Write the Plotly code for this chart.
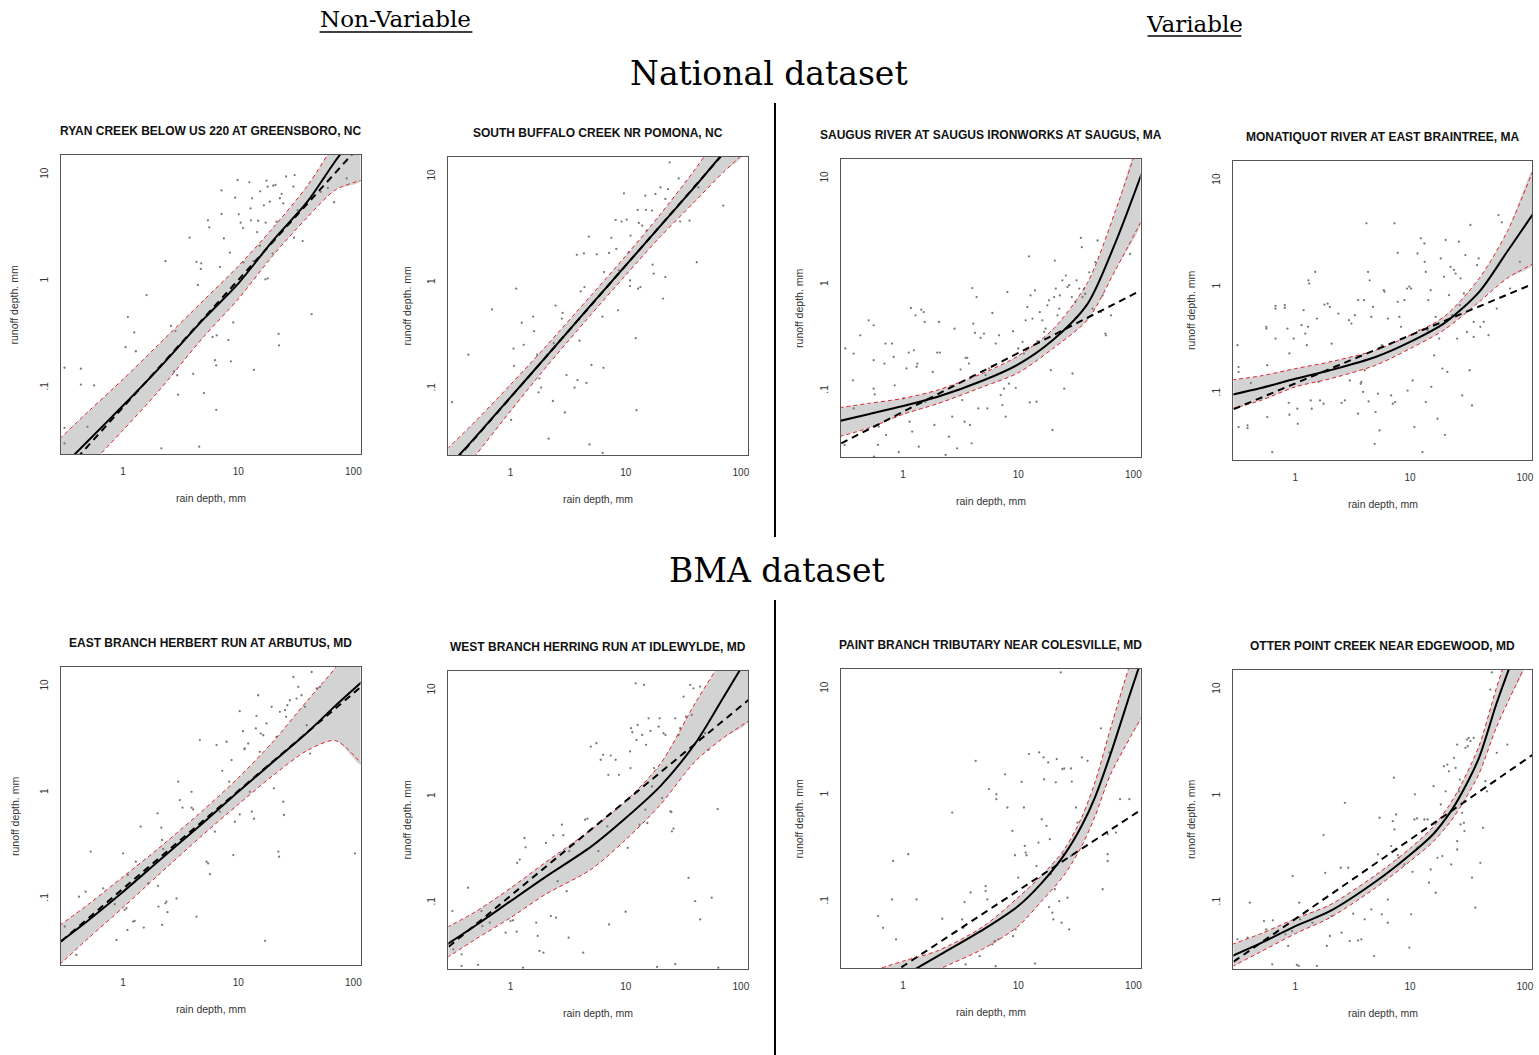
import plotly.graph_objects as go

W, H = 1539, 1055

# ---------------- panel titles ----------------
titles = [
    "RYAN CREEK BELOW US 220 AT GREENSBORO, NC",
    "SOUTH BUFFALO CREEK NR POMONA, NC",
    "SAUGUS RIVER AT SAUGUS IRONWORKS AT SAUGUS, MA",
    "MONATIQUOT RIVER AT EAST BRAINTREE, MA",
    "EAST BRANCH HERBERT RUN AT ARBUTUS, MD",
    "WEST BRANCH HERRING RUN AT IDLEWYLDE, MD",
    "PAINT BRANCH TRIBUTARY NEAR COLESVILLE, MD",
    "OTTER POINT CREEK NEAR EDGEWOOD, MD",
]

x_tickvals = [1, 10, 100]
x_ticktext = ["1", "10", "100"]
y_tickvals = [0.1, 1, 10]
y_ticktext = [".1", "1", "10"]

# ---------------- observed events (rain mm, runoff mm) ----------------
ryan_rain = [0.31,0.43,0.43,0.56,0.31,0.49,0.31,1.10,1.05,1.25,1.29,1.60,2.33,2.15,2.6,2.85,2.78,2.95,3.0,3.78,4.06,4.34,4.46,4.73,4.77,5.03,4.58,5.45,5.6,5.98,6.27,6.44,6.44,6.5,7.16,7.16,6.93,7.5,8.2,8.47,8.63,9.05,9.4,9.87,10.1,10.5,11.0,11.1,12.5,12.8,12.9,13.2,13.7,13.5,14.6,14.9,15.5,15.4,16.0,16.7,17.2,17.6,17.3,18.0,18.0,18.8,19.9,20.1,21.0,22.4,22.6,21.5,23.0,23.8,24.6,26,30.1,30.9,30.5,32.8,36.3,43.4,56.7,68,52,60,87.5]
ryan_runoff = [0.154,0.151,0.107,0.105,0.042,0.043,0.030,0.46,0.24,0.33,0.22,0.74,1.54,0.027,0.38,0.34,0.143,0.131,0.086,2.56,0.135,1.52,0.92,1.30,1.47,0.089,0.028,3.72,3.2,0.30,0.181,0.162,0.062,0.31,7.1,4.27,1.36,2.52,0.28,1.85,0.177,0.41,6.08,8.9,4.24,3.54,3.15,1.5,8.47,4.82,3.72,5.99,0.147,1.54,2.89,3.69,6.97,2.15,1.77,5.15,1.04,8.79,3.54,7.71,1.06,5.57,1.81,7.88,8.0,0.32,0.25,3.61,6.0,6.6,5.37,9.6,7.7,9.9,2.56,4.65,2.38,0.49,9.6,5.5,6.9,7.5,9.2]

buffalo_rain = [0.31,0.43,0.69,1.12,1.06,1.07,1.01,1.25,1.30,1.57,1.60,1.70,1.78,1.84,1.75,2.14,2.33,2.46,2.37,2.79,2.83,2.96,3.06,3.59,3.81,3.76,3.97,4.07,4.38,4.33,4.56,4.78,4.84,5.04,5.6,6.27,6.4,6.3,6.48,7.16,7.5,8.17,8.28,8.56,8.73,9.2,9.65,10.2,10.6,10.9,10.9,11.0,12.2,12.4,12.7,13.0,12.8,13.4,13.9,14.8,15.0,15.2,16.9,17.1,17.5,18.1,20.0,21.1,22.1,22.1,23.3,24.1,28.8,29.7,35.8,41.4,42.8,70.3]
buffalo_runoff = [0.075,0.21,0.56,0.88,0.24,0.165,0.051,0.42,0.26,0.48,0.35,0.21,0.126,0.103,0.093,0.034,0.077,0.61,0.27,0.46,0.52,0.060,0.135,0.103,0.121,1.83,0.285,0.83,0.91,1.89,0.114,2.72,0.030,0.168,1.85,0.48,0.158,0.025,1.26,1.91,2.65,3.9,2.08,0.55,1.31,3.77,6.95,3.93,1.94,1.05,0.93,2.78,0.30,0.063,4.85,3.66,0.88,0.91,3.45,6.6,4.85,3.1,4.78,1.48,1.22,6.85,7.9,0.71,6.15,1.13,7.6,13.6,9.6,3.77,3.85,1.56,7.9,5.33]

saugus_rain = [0.315,0.31,0.372,0.367,0.372,0.425,0.486,0.502,0.555,0.555,0.555,0.567,0.559,0.606,0.614,0.688,0.702,0.711,0.802,0.829,0.846,0.857,0.917,1.01,1.07,1.12,1.14,1.17,1.20,1.24,1.28,1.31,1.33,1.37,1.44,1.51,1.54,1.56,1.81,1.87,1.98,2.05,2.09,2.34,2.50,2.67,2.80,2.95,3.16,3.26,3.42,3.49,3.61,3.73,3.81,3.94,3.99,4.07,4.21,4.35,4.50,4.71,5.04,5.21,5.39,5.57,5.96,6.37,6.81,7.04,7.28,7.53,7.78,8.05,8.32,9.02,9.51,10.0,10.9,11.2,11.6,12.0,12.4,12.6,12.8,13.3,14.0,14.4,14.7,15.4,16.2,16.8,17.3,17.9,18.5,19.2,19.8,20.5,20.8,21.2,21.9,22.7,23.0,24.2,25.1,25.9,26.8,27.7,29.2,29.6,31.3,32.1,33.9,35.0,35.7,36.2,37.4,38.2,40.0,41.4,44.2,46.7,48.9,52.3,54.1,57.8,63.9,93.5,57.0]
saugus_runoff = [0.251,0.031,0.225,0.126,0.0685,0.334,0.0429,0.462,0.415,0.195,0.105,0.0927,0.0241,0.031,0.0461,0.181,0.279,0.0385,0.279,0.209,0.113,0.0572,0.0265,0.0851,0.163,0.23,0.0513,0.604,0.0414,0.241,0.515,0.169,0.181,0.0299,0.582,0.553,0.446,0.0791,0.151,0.0478,0.23,0.446,0.23,0.025,0.0371,0.0572,0.386,0.0288,0.159,0.082,0.0513,0.205,0.205,0.181,0.0478,0.0321,0.93,0.43,0.352,0.766,0.0685,0.316,0.347,0.141,0.0685,0.163,0.542,0.279,0.334,0.0914,0.0736,0.105,0.0572,0.853,0.117,0.365,0.107,0.251,0.29,0.225,0.462,0.617,1.85,0.078,0.794,0.48,0.885,0.0791,0.294,0.553,0.462,0.36,0.386,0.64,0.713,0.157,0.0429,0.766,1.69,0.92,0.515,0.595,0.794,1.10,0.105,1.22,0.95,0.99,0.766,0.146,0.687,1.10,0.92,2.76,2.26,0.766,0.92,0.823,0.48,1.31,0.595,1.63,2.61,0.553,0.794,0.334,0.515,1.95,0.347]

monatiquot_rain = [0.313,0.32,0.32,0.32,0.383,0.383,0.409,0.569,0.569,0.629,0.558,0.558,0.672,0.672,0.672,0.809,0.809,0.853,0.876,0.887,0.887,0.968,1.04,1.05,1.13,1.18,1.22,1.26,1.29,1.30,1.32,1.36,1.39,1.49,1.54,1.59,1.64,1.76,1.79,1.91,2.00,2.07,2.37,2.53,2.70,2.93,2.98,3.08,3.30,3.52,3.52,3.71,3.76,3.89,3.97,4.02,4.16,4.30,4.35,4.44,4.59,4.75,4.91,5.00,5.24,5.42,5.67,5.90,5.98,6.39,6.83,7.06,7.30,7.40,7.80,7.80,8.06,8.33,8.91,9.39,9.51,9.84,10.2,10.5,10.9,11.6,12.0,12.4,12.8,13.3,13.4,13.7,13.7,14.2,14.4,15.1,15.3,16.2,16.7,17.3,17.9,18.5,19.1,19.7,20.1,20.4,21.1,21.8,22.5,23.3,24.1,24.9,25.7,26.6,27.1,27.5,28.4,29.4,30.3,31.3,33.0,33.5,34.6,35.8,38.3,39.5,40.9,43.7,48.2,56.9,58.9,62.9,90.5,35.8,74.3]
monatiquot_runoff = [0.285,0.178,0.16,0.0486,0.0504,0.0475,0.126,0.185,0.0604,0.0283,0.424,0.409,0.667,0.63,0.329,0.677,0.639,0.409,0.0822,0.239,0.0635,0.329,0.0723,0.0522,0.44,0.608,0.367,0.285,0.424,1.16,1.08,0.0865,0.0723,1.39,0.507,0.129,0.0865,0.0805,0.687,0.702,0.653,0.295,0.565,0.0822,0.0865,0.49,0.133,0.455,0.545,0.755,0.0649,0.124,0.129,0.104,0.755,0.166,3.97,1.39,0.0847,1.16,0.526,0.653,0.0339,0.0673,0.1,0.0452,0.285,0.937,0.904,0.507,0.0964,0.0805,3.97,0.0835,2.10,0.728,0.526,0.424,0.755,0.971,0.107,1.01,0.971,0.133,0.0486,2.07,0.394,2.87,0.0283,2.57,1.73,0.0835,1.39,0.394,0.755,0.937,0.116,0.229,0.526,0.0582,0.329,1.86,0.172,1.25,0.0411,2.77,0.16,0.841,1.55,0.545,1.45,1.34,0.329,2.67,0.677,1.21,0.0964,0.872,2.00,0.38,0.166,3.83,0.0776,0.341,1.61,1.86,0.424,0.472,0.354,0.63,4.75,4.06,1.73,0.472,0.971]

herbert_rain = [0.311,0.393,0.414,0.473,0.523,0.670,0.847,0.875,1.0,1.03,1.07,1.09,1.10,1.22,1.26,1.29,1.42,1.51,1.65,1.99,2.01,2.03,2.15,2.18,2.18,2.23,2.33,2.38,2.43,2.91,3.01,3.11,3.28,3.93,3.93,4.06,4.34,4.64,5.31,5.48,5.67,6.27,6.48,6.93,7.26,7.92,8.35,8.75,9.05,9.35,10.3,10.3,11.0,11.3,11.4,12.2,12.6,13.1,13.7,14.2,14.4,14.9,15.4,15.7,16.5,17.1,17.6,19.5,20.4,21.5,22.3,22.6,23.0,24.6,24.9,25.5,26.0,26.7,28.1,30.1,33.2,35.5,39.3,42.0,43.4,48.0,51.3,103,38.0,32.1,17.1]
herbert_runoff = [0.055,0.0297,0.105,0.117,0.279,0.126,0.0891,0.0411,0.269,0.0788,0.0817,0.051,0.168,0.0612,0.0621,0.224,0.479,0.0537,0.14,0.64,0.133,0.0847,0.469,0.359,0.0569,0.295,0.091,0.0944,0.075,0.101,1.27,0.853,0.723,1.02,0.723,0.697,0.0682,3.13,0.224,0.216,0.171,0.43,2.81,0.663,1.61,3.02,1.27,2.03,0.259,0.533,5.86,0.625,3.80,2.57,2.61,2.91,1.02,0.663,0.569,4.03,5.30,8.28,2.43,3.61,3.48,1.69,4.49,6.44,1.10,3.36,0.279,0.25,5.78,0.823,0.617,5.99,5.19,6.67,7.43,12.3,9.93,8.28,4.33,2.34,13.7,9.58,9.93,0.269,6.44,7.71,0.0403]

herring_rain = [0.312,0.318,0.375,0.375,0.428,0.522,0.558,0.569,0.659,0.906,1.0,1.05,1.13,1.14,1.20,1.32,1.35,1.28,1.67,1.72,1.78,1.93,2.03,2.24,2.35,2.48,2.56,2.79,2.87,3.07,3.19,3.23,4.27,4.44,4.65,4.97,5.56,5.79,6.06,6.35,6.92,7.06,7.16,7.40,8.17,8.73,9.97,10.4,10.9,11.0,11.1,11.4,12.2,12.4,12.7,13.2,13.9,14.4,14.8,15.0,15.4,15.8,16.4,16.9,17.6,18.7,19.3,19.7,20.7,21.3,22.1,24.4,24.9,25.2,26.0,26.9,28.8,29.7,31.8,33.3,35.1,36.3,37.5,38.7,40.1,44.3,44.3,47.3,48.9,52.2,55.8,63.7,62.9,26.9]
herring_runoff = [0.0838,0.0366,0.0328,0.0255,0.139,0.0261,0.0838,0.0605,0.0652,0.0525,0.0675,0.0685,0.0536,0.238,0.256,0.409,0.334,0.0246,0.0652,0.0489,0.0353,0.034,0.367,0.0752,0.434,0.0726,0.16,0.546,0.434,0.129,0.0471,0.307,0.034,0.608,0.621,2.97,3.19,0.307,2.23,2.48,0.526,1.61,0.0628,2.44,2.23,1.61,0.0826,0.33,2.67,1.86,4.42,4.05,11.7,3.43,4.74,0.546,3.82,11.3,0.755,3.08,0.566,5.48,4.17,1.25,1.86,0.025,4.57,5.48,0.971,3.96,3.82,0.728,0.718,0.472,0.501,5.48,3.82,4.42,8.75,5.68,0.172,11.3,5.89,10.5,0.104,10.9,0.07,3.69,3.96,2.76,0.112,0.0246,0.766,0.0265]

paint_rain = [0.606,0.67,0.819,0.869,0.802,1.11,1.31,2.19,2.67,3.26,3.42,3.33,3.49,3.86,4.27,4.62,4.71,5.21,5.21,5.39,5.57,5.96,6.24,6.37,6.46,6.46,6.72,7.28,7.68,8.05,8.9,9.02,9.38,9.51,10.0,10.7,11.2,11.4,11.6,11.8,12.4,14.0,14.4,15.0,15.2,16.0,16.6,16.8,17.6,18.2,18.5,18.8,19.2,19.8,20.2,20.8,21.2,21.6,22.7,23.8,24.2,25.1,24.6,26.8,27.7,28.7,29.2,31.7,32.7,35.7,40.0,52.3,54.1,59.8,59.8,76.6,61.8,92.3,23.4,59.8,70.6,28.7]
paint_runoff = [0.0733,0.0569,0.241,0.0443,0.105,0.279,0.105,0.0692,0.687,0.0682,0.0993,0.0569,0.0258,0.122,2.10,0.0308,0.053,0.126,0.14,0.105,1.14,0.0397,0.0427,0.0248,1.02,0.917,0.0443,0.101,1.57,0.766,0.462,0.0475,0.273,0.055,0.168,1.33,0.766,0.334,0.289,0.273,2.43,0.0263,0.216,0.359,2.52,0.594,2.26,1.41,0.515,2.03,0.0891,0.386,0.181,0.0788,0.0682,0.131,1.32,2.18,0.101,0.0635,1.76,1.78,0.279,0.109,0.055,1.78,1.34,0.766,0.553,2.26,2.10,4.24,0.131,0.279,0.241,0.917,2.52,0.917,14.2,0.43,0.446,0.269]

otter_rain = [0.313,0.383,0.401,0.533,0.558,0.629,0.637,0.82,0.865,0.936,0.948,1.03,1.07,1.08,1.10,1.41,1.54,1.76,1.82,1.88,2.00,2.07,2.49,2.53,2.70,2.89,2.98,3.19,3.52,3.76,4.02,4.59,4.84,5.24,5.42,5.67,6.39,6.39,6.83,7.06,7.21,7.30,7.55,7.80,7.91,8.91,9.84,10.2,10.5,10.9,11.0,11.5,11.6,13.3,14.2,14.6,15.1,16.0,16.7,17.3,18.5,19.1,19.7,20.4,21.1,21.8,22.8,24.1,24.9,25.7,26.6,27.1,27.5,28.4,29.4,29.7,30.3,31.3,31.8,32.4,33.5,34.6,35.8,37.0,25.7,40.9,43.1,45.2,46.7,49.9,51.5,56.9,25.7,70.3]
otter_runoff = [0.0453,0.047,0.1,0.0673,0.0562,0.0264,0.0683,0.0505,0.0393,0.0542,0.178,0.0261,0.0255,0.1,0.0698,0.0649,0.0255,0.431,0.191,0.0393,0.0487,0.075,0.213,0.0524,0.866,0.213,0.0437,0.0789,0.0443,0.0453,0.0698,0.0866,0.0316,0.284,0.627,0.0778,0.107,0.0649,0.34,0.583,1.49,0.487,0.673,0.28,0.264,0.229,0.0379,0.0778,0.195,0.604,1.04,0.618,0.328,0.604,0.604,0.154,0.205,1.24,0.124,0.264,0.835,0.274,1.91,1.11,1.98,1.71,0.229,2.29,1.84,0.378,1.11,1.43,0.542,0.698,0.562,0.47,2.84,3.40,2.94,3.52,3.28,0.172,3.52,0.0898,0.316,0.237,0.505,1.38,1.11,10.0,14.5,2.55,3.05,3.05]

# ---------------- fitted curves (rain knots, fit, confidence band) ----------------
curve_rain = [0.28, 0.5, 1, 2, 5, 10, 20, 40, 70, 120]

ryan_fit   = [0.017, 0.032, 0.068, 0.148, 0.44, 0.95, 2.4, 5.6, 13.5, 29]
ryan_upper = [0.033, 0.060, 0.12, 0.25, 0.66, 1.38, 3.16, 7.9, 20, 45]
ryan_lower = [0.0089, 0.018, 0.040, 0.091, 0.30, 0.68, 1.74, 4.0, 7.2, 8.9]
ryan_lin_rain = [0.29, 117]
ryan_lin = [0.015, 19.3]

buffalo_fit   = [0.0179, 0.0356, 0.0838, 0.197, 0.618, 1.456, 3.43, 8.07, 16.5, 30.9]
buffalo_upper = [0.0271, 0.0502, 0.110, 0.248, 0.760, 1.79, 4.42, 11.7, 27.4, 57.5]
buffalo_lower = [0.0113, 0.0240, 0.0621, 0.157, 0.502, 1.18, 2.72, 5.85, 10.9, 18.6]
buffalo_lin_rain = [0.29, 117]
buffalo_lin = [0.0179, 30.9]

saugus_fit   = [0.0521, 0.0603, 0.0721, 0.0881, 0.126, 0.178, 0.302, 0.661, 2.51, 11.7]
saugus_upper = [0.0695, 0.0764, 0.0851, 0.102, 0.148, 0.214, 0.380, 1.05, 5.01, 28.2]
saugus_lower = [0.0372, 0.0447, 0.0603, 0.0759, 0.110, 0.148, 0.251, 0.468, 1.38, 4.17]
saugus_lin_rain = [0.29, 109]
saugus_lin = [0.0321, 0.853]

monatiquot_fit   = [0.0977, 0.113, 0.138, 0.166, 0.221, 0.306, 0.462, 0.904, 2.15, 5.01]
monatiquot_upper = [0.135, 0.147, 0.172, 0.199, 0.256, 0.354, 0.533, 1.21, 3.31, 13.1]
monatiquot_lower = [0.0724, 0.0865, 0.116, 0.138, 0.185, 0.265, 0.400, 0.728, 1.21, 1.67]
monatiquot_lin_rain = [0.29, 117]
monatiquot_lin = [0.0716, 1.07]

herbert_fit   = [0.0389, 0.0631, 0.117, 0.224, 0.525, 1.02, 1.95, 3.72, 6.61, 11.2]
herbert_upper = [0.0562, 0.0891, 0.162, 0.295, 0.692, 1.38, 3.02, 7.41, 15.1, 35.5]
herbert_lower = [0.024, 0.0427, 0.0832, 0.166, 0.407, 0.776, 1.45, 2.51, 3.09, 1.82]
herbert_lin_rain = [0.29, 117]
herbert_lin = [0.040, 10.0]

herring_fit   = [0.0407, 0.0617, 0.104, 0.175, 0.339, 0.631, 1.26, 3.16, 8.51, 22.4]
herring_upper = [0.0589, 0.0832, 0.138, 0.24, 0.49, 0.912, 2.04, 7.59, 20, 50]
herring_lower = [0.0305, 0.0457, 0.0726, 0.12, 0.207, 0.394, 0.841, 2.15, 3.56, 5.28]
herring_lin_rain = [0.29, 117]
herring_lin = [0.0387, 8.2]

paint_curve_rain = [0.5, 1.0, 2.0, 5.0, 10, 15.8, 25.1, 35.5, 46.4, 63.1, 94.8, 120]
paint_fit   = [0.0132, 0.020, 0.0309, 0.055, 0.0912, 0.148, 0.275, 0.513, 0.955, 2.40, 9.33, 20]
paint_upper = [0.0219, 0.0277, 0.0347, 0.0589, 0.11, 0.174, 0.309, 0.617, 1.32, 4.17, 17.8, 35.5]
paint_lower = [0.0105, 0.0158, 0.0229, 0.0363, 0.0589, 0.1, 0.178, 0.331, 0.631, 1.55, 3.55, 5.62]
paint_lin_rain = [0.29, 110]
paint_lin = [0.0103, 0.70]

otter_curve_rain = [0.28, 0.501, 1.0, 2.0, 5.01, 10, 15.8, 22.4, 28.2, 39.8, 56.2, 70.8, 100]
otter_fit   = [0.0316, 0.0417, 0.0603, 0.0832, 0.158, 0.282, 0.437, 0.708, 1.07, 2.29, 7.24, 14.5, 39.8]
otter_upper = [0.0407, 0.0513, 0.0708, 0.0955, 0.182, 0.324, 0.513, 0.851, 1.32, 2.95, 10.2, 21.9, 70.8]
otter_lower = [0.0251, 0.0347, 0.0513, 0.0724, 0.138, 0.245, 0.372, 0.575, 0.832, 1.62, 4.37, 7.59, 16.6]
otter_lin_rain = [0.29, 117]
otter_lin = [0.028, 2.45]

# ---------------- assemble ----------------
series = [
    (ryan_rain, ryan_runoff, curve_rain, ryan_fit, ryan_upper, ryan_lower, ryan_lin_rain, ryan_lin),
    (buffalo_rain, buffalo_runoff, curve_rain, buffalo_fit, buffalo_upper, buffalo_lower, buffalo_lin_rain, buffalo_lin),
    (saugus_rain, saugus_runoff, curve_rain, saugus_fit, saugus_upper, saugus_lower, saugus_lin_rain, saugus_lin),
    (monatiquot_rain, monatiquot_runoff, curve_rain, monatiquot_fit, monatiquot_upper, monatiquot_lower, monatiquot_lin_rain, monatiquot_lin),
    (herbert_rain, herbert_runoff, curve_rain, herbert_fit, herbert_upper, herbert_lower, herbert_lin_rain, herbert_lin),
    (herring_rain, herring_runoff, curve_rain, herring_fit, herring_upper, herring_lower, herring_lin_rain, herring_lin),
    (paint_rain, paint_runoff, paint_curve_rain, paint_fit, paint_upper, paint_lower, paint_lin_rain, paint_lin),
    (otter_rain, otter_runoff, otter_curve_rain, otter_fit, otter_upper, otter_lower, otter_lin_rain, otter_lin),
]

# plot-box pixel positions (left, top, right, bottom) and y-label x position
boxes = [
    (61, 155, 361, 454), (449, 157, 749, 455), (842, 159, 1142, 457), (1235, 161, 1534, 460),
    (61, 667, 361, 965), (449, 671, 749, 969), (842, 669, 1142, 968), (1235, 670, 1534, 969),
]
ylab_x = [15, 408, 800, 1192, 15, 408, 800, 1192]

XR = [-0.54, 2.062]
YR = [-1.622, 1.184]
SANS = "Liberation Sans, Arial, sans-serif"
SERIF = "DejaVu Serif, serif"

fig = go.Figure()
annotations = []
layout_axes = {}

for i, (ser, box) in enumerate(zip(series, boxes)):
    rain, runoff, krain, fit, upper, lower, lin_rain, lin = ser
    k = i + 1
    xa = "x" if k == 1 else f"x{k}"
    ya = "y" if k == 1 else f"y{k}"
    l, t, r, b = box

    # confidence band
    fig.add_trace(go.Scatter(
        x=list(krain) + list(krain)[::-1], y=list(upper) + list(lower)[::-1],
        mode="lines", fill="toself", fillcolor="#d3d3d3",
        line=dict(width=0, shape="spline", smoothing=0.8),
        xaxis=xa, yaxis=ya, hoverinfo="skip", showlegend=False))
    # observed points
    fig.add_trace(go.Scatter(
        x=rain, y=runoff, mode="markers",
        marker=dict(size=2.3, color="#7a7a7a", line=dict(width=0)),
        xaxis=xa, yaxis=ya, showlegend=False))
    # band edges
    for edge in (upper, lower):
        fig.add_trace(go.Scatter(
            x=krain, y=edge, mode="lines",
            line=dict(color="#e0202a", width=1, dash="4px,3px", shape="spline", smoothing=0.8),
            xaxis=xa, yaxis=ya, showlegend=False))
    # fitted (variable) curve
    fig.add_trace(go.Scatter(
        x=krain, y=fit, mode="lines",
        line=dict(color="black", width=2, shape="spline", smoothing=0.8),
        xaxis=xa, yaxis=ya, showlegend=False))
    # constant-coefficient fit
    fig.add_trace(go.Scatter(
        x=lin_rain, y=lin, mode="lines",
        line=dict(color="black", width=2, dash="7px,5px"),
        xaxis=xa, yaxis=ya, showlegend=False))

    common = dict(showgrid=False, zeroline=False, showline=True, mirror=True,
                  linecolor="#555555", linewidth=1, ticks="outside", ticklen=8,
                  tickcolor="rgba(0,0,0,0)", tickmode="array",
                  tickfont=dict(family=SANS, size=10, color="#333333"))
    layout_axes["xaxis" if k == 1 else f"xaxis{k}"] = dict(
        type="log", range=XR, domain=[l / W, r / W], anchor=ya,
        tickvals=x_tickvals, ticktext=x_ticktext, **common)
    layout_axes["yaxis" if k == 1 else f"yaxis{k}"] = dict(
        type="log", range=YR, domain=[1 - b / H, 1 - t / H], anchor=xa,
        tickvals=y_tickvals, ticktext=y_ticktext, tickangle=-90, **common)

    cx = (l + r) / 2
    annotations.append(dict(text=f"<b>{titles[i]}</b>", x=cx / W, y=1 - (t - 24) / H,
                            xref="paper", yref="paper", showarrow=False,
                            xanchor="center", yanchor="middle",
                            font=dict(family=SANS, size=12, color="#111111")))
    annotations.append(dict(text="rain depth, mm", x=cx / W, y=1 - (b + 44) / H,
                            xref="paper", yref="paper", showarrow=False,
                            xanchor="center", yanchor="middle",
                            font=dict(family=SANS, size=10.5, color="#333333")))
    annotations.append(dict(text="runoff depth. mm", x=ylab_x[i] / W, y=1 - ((t + b) / 2) / H,
                            xref="paper", yref="paper", showarrow=False, textangle=-90,
                            xanchor="center", yanchor="middle",
                            font=dict(family=SANS, size=10.5, color="#333333")))

# headers
annotations += [
    dict(text="Non-Variable", x=396 / W, y=1 - 19 / H, xref="paper", yref="paper",
         showarrow=False, xanchor="center", yanchor="middle",
         font=dict(family=SERIF, size=23, color="black")),
    dict(text="Variable", x=1196 / W, y=1 - 24 / H, xref="paper", yref="paper",
         showarrow=False, xanchor="center", yanchor="middle",
         font=dict(family=SERIF, size=23, color="black")),
    dict(text="National dataset", x=770 / W, y=1 - 73 / H, xref="paper", yref="paper",
         showarrow=False, xanchor="center", yanchor="middle",
         font=dict(family=SERIF, size=33, color="black")),
    dict(text="BMA dataset", x=778 / W, y=1 - 570 / H, xref="paper", yref="paper",
         showarrow=False, xanchor="center", yanchor="middle",
         font=dict(family=SERIF, size=33, color="black")),
]

def pline(x0, y0, x1, y1, w):
    return dict(type="line", xref="paper", yref="paper",
                x0=x0 / W, y0=1 - y0 / H, x1=x1 / W, y1=1 - y1 / H,
                line=dict(color="black", width=w))

shapes = [
    pline(320, 32, 473, 32, 1.5),
    pline(1149, 36, 1243, 36, 1.5),
    pline(776, 103, 776, 537, 2),
    pline(776, 600, 776, 1055, 2),
]

fig.update_layout(
    width=W, height=H, autosize=False,
    margin=dict(l=0, r=0, t=0, b=0),
    paper_bgcolor="white", plot_bgcolor="white",
    showlegend=False, annotations=annotations, shapes=shapes,
    **layout_axes)

fig.write_html("out.html",
               config={"displayModeBar": False},
               post_script="document.body.style.margin='0px';"
                           "document.body.style.overflow='hidden';")
